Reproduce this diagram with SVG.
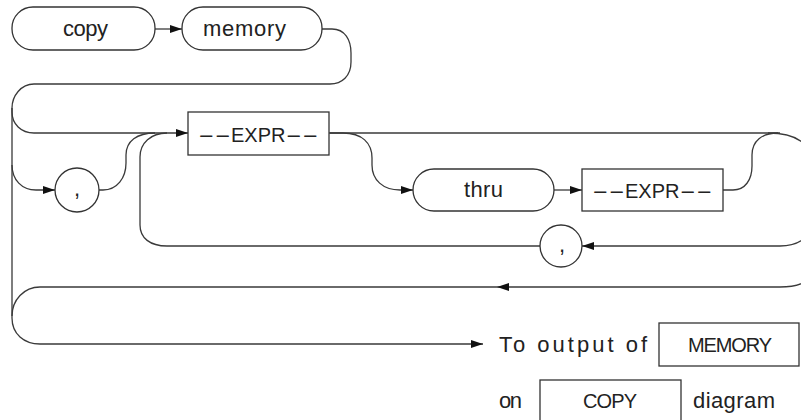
<svg xmlns="http://www.w3.org/2000/svg" width="801" height="420" viewBox="0 0 801 420">
<style>
.shape{fill:#fff;stroke:#333;stroke-width:1.3}
.ln{fill:none;stroke:#3a3a3a;stroke-width:1.3}
text{font-family:"Liberation Sans","DejaVu Sans",Arial,sans-serif;font-size:20px;fill:#222}
.lc{font-size:22px}
</style>
<defs>
<marker id="arr" viewBox="0 0 12 8" refX="12" refY="4" markerWidth="12" markerHeight="8" markerUnits="userSpaceOnUse" orient="auto">
<path d="M0,0 L12,4 L0,8 z" fill="#111"/>
</marker>
</defs>
<g id="connectors">
<path class="ln" d="M155,29 L182,29" marker-end="url(#arr)"/>
<path class="ln" d="M322,29 L332,29 C345,29 351,40 351,53 L351,62 C351,76 342,84 330,84 L34,84 C21,84 12,96 12,108 L12,112 C12,124 21,133 34,133 L188,133" marker-end="url(#arr)"/>
<path class="ln" d="M12,108 L12,318 C12,334 24,344 40,344 L483,344" marker-end="url(#arr)"/>
<path class="ln" d="M12,165 C12,180 22,190 36,190 L55,190" marker-end="url(#arr)"/>
<path class="ln" d="M99,190 L103,190 C117,190 126,178 126,163 L126,155 C126,141 137,133 155,133"/>
<path class="ln" d="M167,133 C151,133 140,143 140,157 L140,225 C140,238 150,246 167,246 L540,246"/>
<path class="ln" d="M329,133 L780,133"/>
<path class="ln" d="M330,133 L343,133 C362,133 372,143 372,158 L372,165 C372,180 383,190 400,190 L413,190" marker-end="url(#arr)"/>
<path class="ln" d="M554,190 L582,190" marker-end="url(#arr)"/>
<path class="ln" d="M723,190 L733,190 C745,190 752,180 752,166 L752,155 C752,141 762,133 778,133"/>
<path class="ln" d="M768,133 C805,133 818,150 818,190 C818,232 805,246 780,246 L582,246" marker-end="url(#arr)"/>
<path class="ln" d="M818,190 L818,255 C818,278 805,287 780,287 L497,287" marker-end="url(#arr)"/>
<path class="ln" d="M497,287 L40,287 C24,287 12,300 12,316"/>
</g>
<g id="copy"><rect class="shape" x="12" y="7" width="143" height="43" rx="21" ry="21"/><text class="lc" x="63" y="36" textLength="45" lengthAdjust="spacing">copy</text></g>
<g id="memory"><rect class="shape" x="182" y="7" width="140" height="43" rx="21" ry="21"/><text class="lc" x="203" y="36" textLength="83" lengthAdjust="spacing">memory</text></g>
<g id="comma1"><circle class="shape" cx="77" cy="190" r="22"/><text class="lc" x="77" y="196" text-anchor="middle">,</text></g>
<g id="expr1"><rect class="shape" x="188" y="112" width="141" height="43"/><text x="198" y="142"><tspan textLength="33" lengthAdjust="spacingAndGlyphs">--</tspan><tspan>EXPR</tspan><tspan textLength="33" lengthAdjust="spacingAndGlyphs">--</tspan></text></g>
<g id="thru"><rect class="shape" x="413" y="169" width="141" height="42" rx="21" ry="21"/><text class="lc" x="464" y="197" textLength="39" lengthAdjust="spacing">thru</text></g>
<g id="expr2"><rect class="shape" x="582" y="169" width="141" height="42"/><text x="592" y="198"><tspan textLength="33" lengthAdjust="spacingAndGlyphs">--</tspan><tspan>EXPR</tspan><tspan textLength="33" lengthAdjust="spacingAndGlyphs">--</tspan></text></g>
<g id="comma2"><circle class="shape" cx="561" cy="246" r="21"/><text class="lc" x="562" y="252" text-anchor="middle">,</text></g>
<g id="note">
<text class="lc" x="499" y="352" textLength="148" lengthAdjust="spacing">To output of</text>
<rect class="shape" x="659" y="323" width="140" height="43"/>
<text x="688" y="352" textLength="84" lengthAdjust="spacing">MEMORY</text>
<text class="lc" x="499" y="408" textLength="23" lengthAdjust="spacing">on</text>
<rect class="shape" x="540" y="380" width="141" height="50"/>
<text x="583" y="408" textLength="54" lengthAdjust="spacing">COPY</text>
<text class="lc" x="693" y="408" textLength="82" lengthAdjust="spacing">diagram</text>
</g>
</svg>
